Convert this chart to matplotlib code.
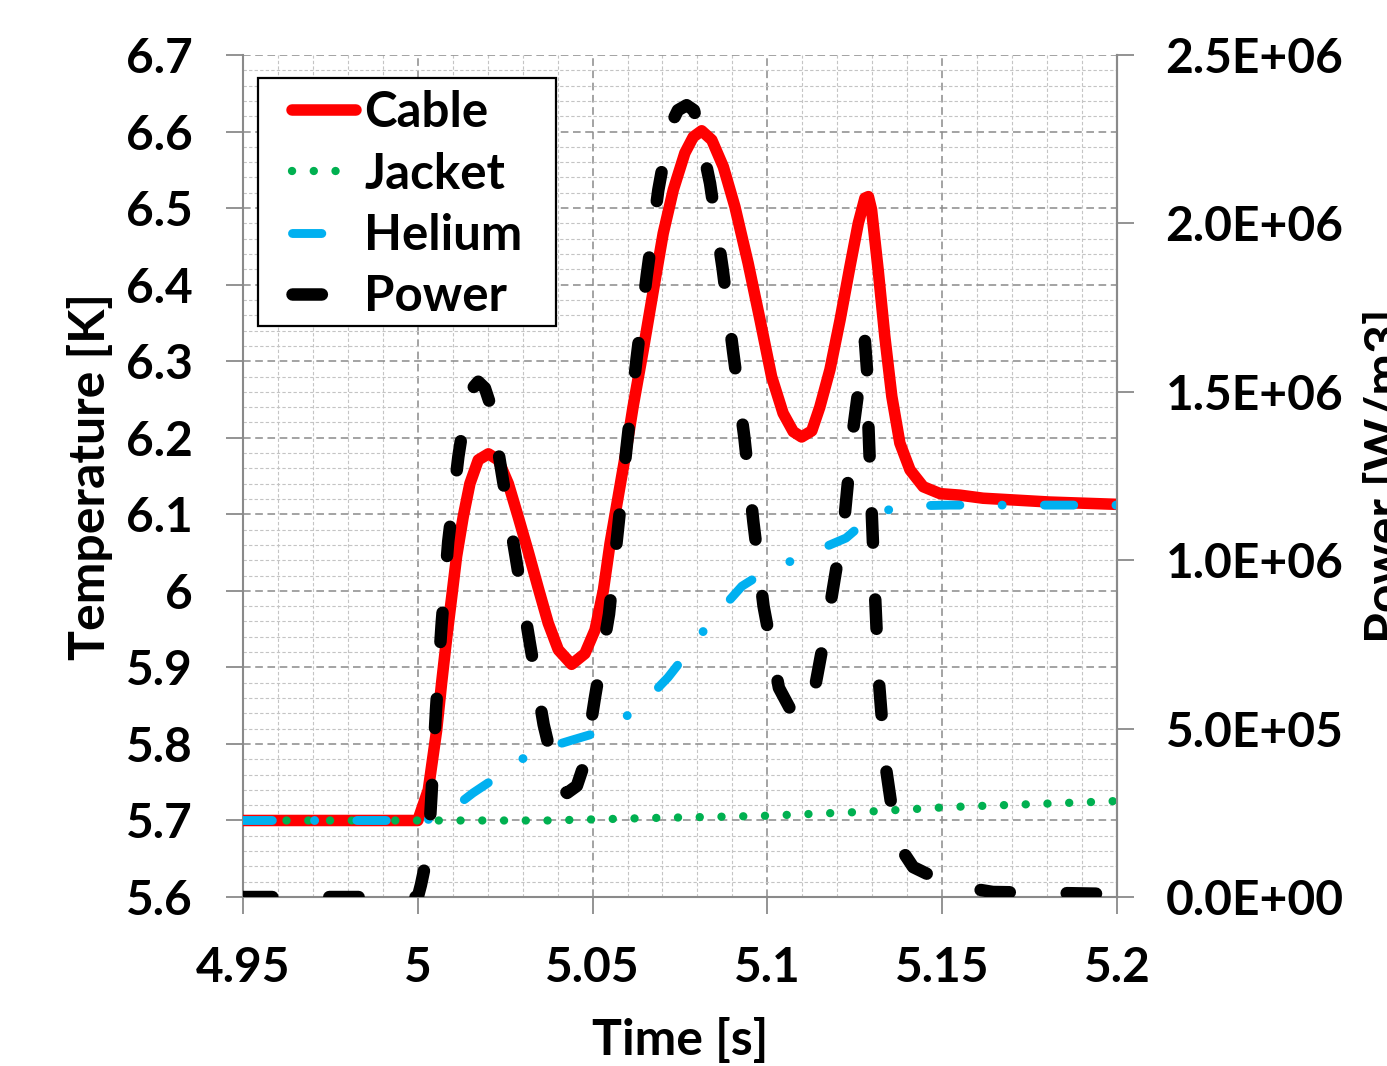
import matplotlib

matplotlib.use("Agg")
import matplotlib.pyplot as plt
from matplotlib.patches import Rectangle
from matplotlib.ticker import FuncFormatter, MultipleLocator

plt.rcParams["font.family"] = ["Lato", "DejaVu Sans"]
plt.rcParams["font.weight"] = "bold"
plt.rcParams["axes.labelweight"] = "bold"

TICK_SIZE = 34.5
LABEL_SIZE = 36
LEGEND_SIZE = 35.5
GRID_MAJOR = "#8a8a8a"
GRID_MINOR = "#c4c4c4"

# --- data ---
cable_time = [4.95, 5.0, 5.0030, 5.0054, 5.0068, 5.0083, 5.0097, 5.0111, 5.0130, 5.0149,
              5.0173, 5.0202, 5.0230, 5.0259, 5.0287, 5.0316, 5.0345, 5.0373, 5.0402, 5.0440,
              5.0478, 5.0507, 5.0531, 5.0550, 5.0593, 5.0616, 5.0645, 5.0674, 5.0702, 5.0731,
              5.0764, 5.0788, 5.0812, 5.0841, 5.0874, 5.0907, 5.0945, 5.0979, 5.1012, 5.1045,
              5.1074, 5.1098, 5.1127, 5.1150, 5.1179, 5.1208, 5.1236, 5.1260, 5.1279, 5.1289,
              5.1298, 5.1317, 5.1336, 5.1356, 5.1379, 5.1408, 5.1446, 5.1494, 5.1551, 5.1617,
              5.1808, 5.2]
cable_temp = [5.700, 5.700, 5.740, 5.818, 5.879, 5.940, 5.992, 6.045, 6.097, 6.140,
              6.171, 6.179, 6.171, 6.140, 6.097, 6.051, 6.003, 5.958, 5.923, 5.904,
              5.918, 5.949, 6.001, 6.062, 6.175, 6.241, 6.315, 6.393, 6.467, 6.524,
              6.572, 6.593, 6.601, 6.589, 6.554, 6.502, 6.428, 6.354, 6.280, 6.232,
              6.208, 6.201, 6.209, 6.240, 6.289, 6.354, 6.423, 6.480, 6.513, 6.515,
              6.498, 6.419, 6.332, 6.254, 6.193, 6.158, 6.136, 6.127, 6.125, 6.121,
              6.116, 6.113]

jacket_time = [4.95, 5.0, 5.037, 5.0673, 5.0979, 5.1285, 5.1522, 5.1771, 5.1957, 5.2]
jacket_temp = [5.700, 5.700, 5.700, 5.7033, 5.7059, 5.7115, 5.7176, 5.7216, 5.7246, 5.7255]

helium_time = [4.95, 5.0, 5.0064, 5.0158, 5.0227, 5.0326, 5.0441, 5.053, 5.063, 5.0716,
               5.0764, 5.0841, 5.0927, 5.0993, 5.1112, 5.1225, 5.1276, 5.1302, 5.1408,
               5.1522, 5.2]
helium_temp = [5.700, 5.700, 5.703, 5.736, 5.757, 5.789, 5.805, 5.817, 5.846, 5.887,
               5.915, 5.962, 6.006, 6.025, 6.047, 6.069, 6.089, 6.102, 6.111,
               6.112, 6.112]

power_time = [4.95, 5.0, 5.0009, 5.0021, 5.0035, 5.0039, 5.0052, 5.0068, 5.0087, 5.0116,
              5.0144, 5.0173, 5.0192, 5.0211, 5.0240, 5.0280, 5.0319, 5.0360, 5.0401, 5.0427,
              5.0455, 5.0478, 5.0507, 5.0547, 5.0598, 5.0626, 5.0655, 5.0688, 5.0721, 5.0744,
              5.0769, 5.0790, 5.0802, 5.0836, 5.0872, 5.0902, 5.0934, 5.0960, 5.0989, 5.1033,
              5.1082, 5.1136, 5.1180, 5.1220, 5.1243, 5.1268, 5.1279, 5.1285, 5.1289, 5.1298,
              5.1308, 5.1319, 5.1338, 5.1365, 5.1394, 5.1417, 5.1522, 5.1645, 5.1828, 5.2]
power_value = [0.0, 0.0, 0.036e6, 0.095e6, 0.229e6, 0.300e6, 0.555e6, 0.808e6, 1.055e6, 1.307e6,
               1.495e6, 1.530e6, 1.511e6, 1.451e6, 1.260e6, 1.010e6, 0.763e6, 0.512e6, 0.333e6, 0.309e6,
               0.330e6, 0.401e6, 0.594e6, 0.840e6, 1.342e6, 1.599e6, 1.846e6, 2.099e6, 2.287e6, 2.336e6,
               2.351e6, 2.336e6, 2.287e6, 2.119e6, 1.866e6, 1.619e6, 1.366e6, 1.113e6, 0.864e6, 0.621e6,
               0.526e6, 0.621e6, 0.867e6, 1.119e6, 1.369e6, 1.565e6, 1.651e6, 1.565e6, 1.401e6, 1.155e6,
               0.897e6, 0.641e6, 0.392e6, 0.199e6, 0.125e6, 0.089e6, 0.036e6, 0.015e6, 0.012e6, 0.009e6]

series_labels = ["Cable", "Jacket", "Helium", "Power"]


fig = plt.figure(figsize=(13.87, 10.66), dpi=100)
ax = fig.add_axes([0.1752, 0.1585, 0.6301, 0.7899])
ax2 = ax.twinx()

ax.plot(cable_time, cable_temp, color="#ff0000", linewidth=8.3,
        solid_capstyle="round", solid_joinstyle="round", label=series_labels[0], zorder=3)
ax.plot(jacket_time, jacket_temp, color="#00b050", linewidth=6.0,
        dashes=(0.01, 2.6), dash_capstyle="round", label=series_labels[1], zorder=4)
ax.plot(helium_time, helium_temp, color="#00b0f0", linewidth=6.4,
        dashes=(3.3, 4.75, 0.01, 4.75), dash_capstyle="round", dash_joinstyle="round",
        label=series_labels[2], zorder=5)
ax2.plot(power_time, power_value, color="black", linewidth=9.0,
         dashes=(2.35, 4.55), dash_capstyle="round", dash_joinstyle="round", label=series_labels[3])

ax.set_xlim(4.95, 5.2)
ax.set_ylim(5.6, 6.7)
ax2.set_ylim(0, 2.5e6)

ax.xaxis.set_major_locator(MultipleLocator(0.05))
ax.xaxis.set_minor_locator(MultipleLocator(0.01))
ax.yaxis.set_major_locator(MultipleLocator(0.1))
ax.yaxis.set_minor_locator(MultipleLocator(0.02))
ax2.yaxis.set_major_locator(MultipleLocator(5e5))

ax.xaxis.set_major_formatter(FuncFormatter(lambda v, p: f"{round(v, 3):g}"))
ax.yaxis.set_major_formatter(FuncFormatter(lambda v, p: f"{round(v, 2):g}"))
ax2.yaxis.set_major_formatter(FuncFormatter(lambda v, p: f"{v:.1E}"))

ax.grid(which="major", color=GRID_MAJOR, linestyle=(0, (5, 3)), linewidth=1.1)
ax.grid(which="minor", color=GRID_MINOR, linestyle=(0, (3, 2)), linewidth=0.8)
ax.set_axisbelow(True)

for a in (ax, ax2):
    a.spines["top"].set_visible(False)
    for side in ("left", "bottom", "right"):
        a.spines[side].set_color(GRID_MAJOR)
        a.spines[side].set_linewidth(1.5)
ax2.spines["left"].set_visible(False)
ax2.spines["bottom"].set_visible(False)

ax.tick_params(axis="x", which="major", length=12, width=1.3, color=GRID_MAJOR, pad=23, labelsize=TICK_SIZE)
ax.tick_params(axis="y", which="major", length=12, width=1.3, color=GRID_MAJOR, pad=24, labelsize=TICK_SIZE)
ax.tick_params(which="minor", length=0)
ax2.tick_params(which="major", length=12, width=1.3, color=GRID_MAJOR, pad=23, labelsize=TICK_SIZE)

ax.set_xlabel("Time [s]", fontsize=LABEL_SIZE, fontweight="bold")
ax.set_ylabel("Temperature [K]", fontsize=LABEL_SIZE, fontweight="bold")
ax2.set_ylabel("Power [W/m3]", fontsize=LABEL_SIZE, fontweight="bold")
ax.xaxis.set_label_coords(0.5, -0.1425)
ax.yaxis.set_label_coords(-0.1487, 0.5)
ax2.yaxis.set_label_coords(1.2815, 0.5)

# legend box drawn separately so padding can differ by side
box = Rectangle((0.0172, 0.6781), 0.3410, 0.2945, transform=ax2.transAxes,
                facecolor="white", edgecolor="black", linewidth=1.6, zorder=6)
ax2.add_patch(box)
h1, l1 = ax.get_legend_handles_labels()
h2, l2 = ax2.get_legend_handles_labels()
leg = ax2.legend(h1 + h2, l1 + l2, loc="upper left", bbox_to_anchor=(0.056, 0.958),
                 frameon=False, borderpad=0, borderaxespad=0, handlelength=1.3,
                 handletextpad=0.17, labelspacing=0.33, prop={"size": LEGEND_SIZE, "weight": "bold"})
leg.set_zorder(7)

fig.savefig("out.png", dpi=100, facecolor="white")
